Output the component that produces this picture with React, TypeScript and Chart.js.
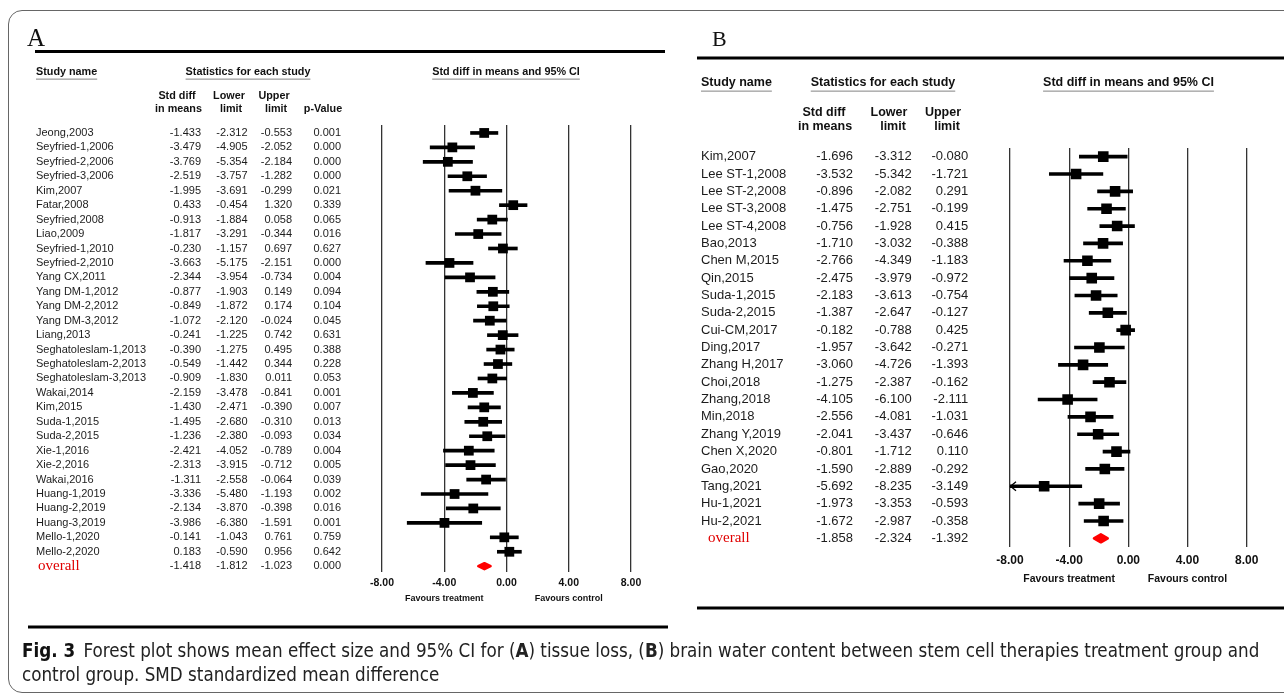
import React, { useEffect, useRef } from "react";
import { Chart, registerables } from "chart.js";

Chart.register(...registerables);

// ---------- DATA ----------
const xTicks = [-8, -4, 0, 4, 8];

const namesA = [
  "Jeong,2003", "Seyfried-1,2006", "Seyfried-2,2006", "Seyfried-3,2006", "Kim,2007",
  "Fatar,2008", "Seyfried,2008", "Liao,2009", "Seyfried-1,2010", "Seyfried-2,2010",
  "Yang CX,2011", "Yang DM-1,2012", "Yang DM-2,2012", "Yang DM-3,2012", "Liang,2013",
  "Seghatoleslam-1,2013", "Seghatoleslam-2,2013", "Seghatoleslam-3,2013", "Wakai,2014", "Kim,2015",
  "Suda-1,2015", "Suda-2,2015", "Xie-1,2016", "Xie-2,2016", "Wakai,2016",
  "Huang-1,2019", "Huang-2,2019", "Huang-3,2019", "Mello-1,2020", "Mello-2,2020",
];
const smdA = [
  -1.433, -3.479, -3.769, -2.519, -1.995, 0.433, -0.913, -1.817, -0.23, -3.663,
  -2.344, -0.877, -0.849, -1.072, -0.241, -0.39, -0.549, -0.909, -2.159, -1.43,
  -1.495, -1.236, -2.421, -2.313, -1.311, -3.336, -2.134, -3.986, -0.141, 0.183,
];
const lowerA = [
  -2.312, -4.905, -5.354, -3.757, -3.691, -0.454, -1.884, -3.291, -1.157, -5.175,
  -3.954, -1.903, -1.872, -2.12, -1.225, -1.275, -1.442, -1.83, -3.478, -2.471,
  -2.68, -2.38, -4.052, -3.915, -2.558, -5.48, -3.87, -6.38, -1.043, -0.59,
];
const upperA = [
  -0.553, -2.052, -2.184, -1.282, -0.299, 1.32, 0.058, -0.344, 0.697, -2.151,
  -0.734, 0.149, 0.174, -0.024, 0.742, 0.495, 0.344, 0.011, -0.841, -0.39,
  -0.31, -0.093, -0.789, -0.712, -0.064, -1.193, -0.398, -1.591, 0.761, 0.956,
];
const pValueA = [
  0.001, 0.0, 0.0, 0.0, 0.021, 0.339, 0.065, 0.016, 0.627, 0.0,
  0.004, 0.094, 0.104, 0.045, 0.631, 0.388, 0.228, 0.053, 0.001, 0.007,
  0.013, 0.034, 0.004, 0.005, 0.039, 0.002, 0.016, 0.001, 0.759, 0.642,
];
const overallA = [-1.418, -1.812, -1.023];
const overallPA = 0.0;

const namesB = [
  "Kim,2007", "Lee ST-1,2008", "Lee ST-2,2008", "Lee ST-3,2008", "Lee ST-4,2008",
  "Bao,2013", "Chen M,2015", "Qin,2015", "Suda-1,2015", "Suda-2,2015",
  "Cui-CM,2017", "Ding,2017", "Zhang H,2017", "Choi,2018", "Zhang,2018",
  "Min,2018", "Zhang Y,2019", "Chen X,2020", "Gao,2020", "Tang,2021",
  "Hu-1,2021", "Hu-2,2021",
];
const smdB = [
  -1.696, -3.532, -0.896, -1.475, -0.756, -1.71, -2.766, -2.475, -2.183, -1.387,
  -0.182, -1.957, -3.06, -1.275, -4.105, -2.556, -2.041, -0.801, -1.59, -5.692,
  -1.973, -1.672,
];
const lowerB = [
  -3.312, -5.342, -2.082, -2.751, -1.928, -3.032, -4.349, -3.979, -3.613, -2.647,
  -0.788, -3.642, -4.726, -2.387, -6.1, -4.081, -3.437, -1.712, -2.889, -8.235,
  -3.353, -2.987,
];
const upperB = [
  -0.08, -1.721, 0.291, -0.199, 0.415, -0.388, -1.183, -0.972, -0.754, -0.127,
  0.425, -0.271, -1.393, -0.162, -2.111, -1.031, -0.646, 0.11, -0.292, -3.149,
  -0.593, -0.358,
];
const overallB = [-1.858, -2.324, -1.392];

// ---------- STYLE ----------
const SANS = "'Liberation Sans', Arial, sans-serif";
const SERIF = "'Liberation Serif', 'Times New Roman', serif";

type Header = { text: string; x: number; y: number; align: CanvasTextAlign; underline?: boolean };

interface PanelCfg {
  letter: string; letterX: number; letterBase: number; letterSize: number;
  left: number; width: number; height: number;
  rules: number[][];
  plotLeft: number; plotRight: number; plotTop: number; plotBottom: number;
  yMin: number; yMax: number;
  names: string[]; smd: number[]; lower: number[]; upper: number[]; pvals?: number[];
  overall: number[]; overallP?: number;
  nameX: number; colRight: number[]; rowFont: string;
  overallX: number; overallFont: string;
  headerFont: string; underlineDy: number; headers: Header[];
  tickSize: number; tickPad: number; favFont: string; favY: number;
  squareR: number; lineW: number; diamondH: number;
}

const panelA: PanelCfg = {
  letter: "A", letterX: 27, letterBase: 46, letterSize: 25,
  left: 0, width: 690, height: 640,
  rules: [[35, 665, 51.5], [28, 668, 627]],
  plotLeft: 382, plotRight: 631, plotTop: 125, plotBottom: 572,
  yMin: -0.55, yMax: 30.4,
  names: namesA, smd: smdA, lower: lowerA, upper: upperA, pvals: pValueA,
  overall: overallA, overallP: overallPA,
  nameX: 36, colRight: [201, 247.5, 292, 341], rowFont: `11px ${SANS}`,
  overallX: 38, overallFont: `15px ${SERIF}`,
  headerFont: `bold 10.8px ${SANS}`, underlineDy: 6.5,
  headers: [
    { text: "Study name", x: 36, y: 72, align: "left", underline: true },
    { text: "Statistics for each study", x: 248, y: 72, align: "center", underline: true },
    { text: "Std diff in means and 95% CI", x: 506, y: 72, align: "center", underline: true },
    { text: "Std diff", x: 177, y: 96, align: "center" },
    { text: "in means", x: 178.5, y: 109, align: "center" },
    { text: "Lower", x: 229, y: 96, align: "center" },
    { text: "limit", x: 231, y: 109, align: "center" },
    { text: "Upper", x: 274, y: 96, align: "center" },
    { text: "limit", x: 276, y: 109, align: "center" },
    { text: "p-Value", x: 323, y: 109, align: "center" },
  ],
  tickSize: 10.5, tickPad: 5, favFont: `bold 9px ${SANS}`, favY: 599,
  squareR: 6.9, lineW: 3, diamondH: 3,
};

const panelB: PanelCfg = {
  letter: "B", letterX: 712, letterBase: 46, letterSize: 22,
  left: 690, width: 594, height: 640,
  rules: [[697, 1284, 58], [697, 1284, 608]],
  plotLeft: 1010, plotRight: 1246.7, plotTop: 148, plotBottom: 547,
  yMin: -0.5, yMax: 22.5,
  names: namesB, smd: smdB, lower: lowerB, upper: upperB,
  overall: overallB,
  nameX: 701, colRight: [853, 911.7, 968.3], rowFont: `13px ${SANS}`,
  overallX: 708, overallFont: `15px ${SERIF}`,
  headerFont: `bold 12.5px ${SANS}`, underlineDy: 7.5,
  headers: [
    { text: "Study name", x: 701, y: 83, align: "left", underline: true },
    { text: "Statistics for each study", x: 883, y: 83, align: "center", underline: true },
    { text: "Std diff in means and 95% CI", x: 1128.5, y: 83, align: "center", underline: true },
    { text: "Std diff", x: 824, y: 113, align: "center" },
    { text: "in means", x: 825, y: 127, align: "center" },
    { text: "Lower", x: 889, y: 113, align: "center" },
    { text: "limit", x: 893, y: 127, align: "center" },
    { text: "Upper", x: 943, y: 113, align: "center" },
    { text: "limit", x: 947, y: 127, align: "center" },
  ],
  tickSize: 12, tickPad: 6, favFont: `bold 10.5px ${SANS}`, favY: 579,
  squareR: 7.5, lineW: 3, diamondH: 4,
};

function makePanelPlugin(cfg: PanelCfg) {
  return {
    id: "panel" + cfg.letter,
    afterDraw(chart: any) {
      const ctx = chart.ctx as CanvasRenderingContext2D;
      const xs = chart.scales.x;
      const ys = chart.scales.y;
      const X = (px: number) => px - cfg.left;
      ctx.save();

      // panel letter
      ctx.fillStyle = "#111";
      ctx.font = `${cfg.letterSize}px ${SERIF}`;
      ctx.textAlign = "left";
      ctx.textBaseline = "alphabetic";
      ctx.fillText(cfg.letter, X(cfg.letterX), cfg.letterBase);

      // thick rules
      ctx.fillStyle = "#000";
      for (const r of cfg.rules) ctx.fillRect(X(r[0]), r[2] - 1.5, r[1] - r[0], 3);

      // headers
      ctx.font = cfg.headerFont;
      ctx.textBaseline = "middle";
      for (const h of cfg.headers) {
        ctx.textAlign = h.align;
        ctx.fillStyle = "#111";
        ctx.fillText(h.text, X(h.x), h.y);
        if (h.underline) {
          const w = ctx.measureText(h.text).width;
          const x0 = h.align === "center" ? h.x - w / 2 : h.x;
          ctx.fillStyle = "#a0a0a0";
          ctx.fillRect(X(x0), h.y + cfg.underlineDy, w, 1.3);
        }
      }

      // study rows
      ctx.font = cfg.rowFont;
      ctx.fillStyle = "#1c1c1c";
      const n = cfg.names.length;
      for (let i = 0; i < n; i++) {
        const y = ys.getPixelForValue(i);
        ctx.textAlign = "left";
        ctx.fillText(cfg.names[i], X(cfg.nameX), y);
        ctx.textAlign = "right";
        const cols = [cfg.smd[i], cfg.lower[i], cfg.upper[i]];
        if (cfg.pvals) cols.push(cfg.pvals[i]);
        cols.forEach((v, k) => ctx.fillText(v.toFixed(3), X(cfg.colRight[k]), y));
      }

      // overall row
      const yo = ys.getPixelForValue(n);
      ctx.textAlign = "left";
      ctx.fillStyle = "#e00000";
      ctx.font = cfg.overallFont;
      ctx.fillText("overall", X(cfg.overallX), yo);
      ctx.font = cfg.rowFont;
      ctx.fillStyle = "#1c1c1c";
      ctx.textAlign = "right";
      const oc = [cfg.overall[0], cfg.overall[1], cfg.overall[2]];
      if (cfg.overallP !== undefined) oc.push(cfg.overallP);
      oc.forEach((v, k) => ctx.fillText(v.toFixed(3), X(cfg.colRight[k]), yo));

      // overall diamond
      const xl = xs.getPixelForValue(cfg.overall[1]);
      const xc = xs.getPixelForValue(cfg.overall[0]);
      const xr = xs.getPixelForValue(cfg.overall[2]);
      ctx.beginPath();
      ctx.moveTo(xl, yo);
      ctx.lineTo(xc, yo - cfg.diamondH);
      ctx.lineTo(xr, yo);
      ctx.lineTo(xc, yo + cfg.diamondH);
      ctx.closePath();
      ctx.fillStyle = "#ff0000";
      ctx.strokeStyle = "#ff0000";
      ctx.lineWidth = 2.5;
      ctx.lineJoin = "round";
      ctx.fill();
      ctx.stroke();

      // arrows for CIs beyond the axis
      ctx.strokeStyle = "#000";
      ctx.lineWidth = 1.3;
      ctx.lineJoin = "miter";
      for (let i = 0; i < n; i++) {
        if (cfg.lower[i] < xs.min) {
          const y = ys.getPixelForValue(i);
          const x0 = chart.chartArea.left;
          ctx.beginPath();
          ctx.moveTo(x0 + 6, y - 4.5);
          ctx.lineTo(x0 + 0.5, y);
          ctx.lineTo(x0 + 6, y + 4.5);
          ctx.stroke();
        }
      }

      // favours labels
      ctx.font = cfg.favFont;
      ctx.fillStyle = "#111";
      ctx.textAlign = "center";
      ctx.textBaseline = "middle";
      ctx.fillText("Favours treatment", xs.getPixelForValue(-4), cfg.favY);
      ctx.fillText("Favours control", xs.getPixelForValue(4), cfg.favY);

      ctx.restore();
    },
  };
}

function buildChart(canvas: HTMLCanvasElement, cfg: PanelCfg) {
  return new Chart(canvas, {
    type: "scatter",
    data: {
      datasets: [
        {
          type: "scatter",
          data: cfg.smd.map((v, i) => ({ x: v, y: i })),
          pointStyle: "rect",
          pointRadius: cfg.squareR,
          pointHoverRadius: cfg.squareR,
          backgroundColor: "#000",
          borderColor: "#000",
          borderWidth: 0,
          order: 0,
        } as any,
        {
          type: "bar",
          indexAxis: "y",
          data: cfg.lower.map((lo, i) => ({ x: [lo, cfg.upper[i]], y: i })),
          backgroundColor: "#000",
          barThickness: cfg.lineW,
          clip: 0,
          order: 1,
        } as any,
      ],
    },
    options: {
      animation: false,
      responsive: false,
      devicePixelRatio: 1,
      events: [],
      layout: {
        padding: {
          left: cfg.plotLeft - cfg.left,
          right: cfg.left + cfg.width - cfg.plotRight,
          top: cfg.plotTop,
          bottom: cfg.height - 30 - cfg.plotBottom,
        },
      },
      plugins: {
        legend: { display: false },
        tooltip: { enabled: false },
        title: { display: false },
      },
      scales: {
        x: {
          type: "linear",
          min: xTicks[0],
          max: xTicks[xTicks.length - 1],
          offset: false,
          afterBuildTicks: (s: any) => {
            s.ticks = xTicks.map((v) => ({ value: v }));
          },
          afterFit: (s: any) => {
            s.height = 30;
          },
          grid: { color: "#333", lineWidth: 1.3, drawTicks: false, offset: false },
          border: { display: false },
          ticks: {
            font: { family: SANS, size: cfg.tickSize, weight: "bold" },
            color: "#111",
            padding: cfg.tickPad,
            maxRotation: 0,
            autoSkip: false,
            callback: (v: any) => Number(v).toFixed(2),
          },
        },
        y: {
          type: "linear",
          min: cfg.yMin,
          max: cfg.yMax,
          reverse: true,
          offset: false,
          grace: 0,
          display: false,
        },
      },
    } as any,
    plugins: [makePanelPlugin(cfg)],
  });
}

export default function App() {
  const refA = useRef<HTMLCanvasElement>(null);
  const refB = useRef<HTMLCanvasElement>(null);

  useEffect(() => {
    const a = buildChart(refA.current!, panelA);
    const b = buildChart(refB.current!, panelB);
    return () => {
      a.destroy();
      b.destroy();
    };
  }, []);

  const capFont = "'Liberation Sans Narrow', 'DejaVu Sans Condensed', 'Liberation Sans', sans-serif";

  return (
    <div style={{ position: "fixed", left: 0, top: 0, width: 1284, height: 695, background: "#fff", overflow: "hidden" }}>
      <div
        style={{
          position: "absolute", left: 8, top: 10, width: 1300, height: 683,
          border: "1.5px solid #666", borderRadius: 14, boxSizing: "border-box",
        }}
      />
      <canvas ref={refA} width={690} height={640} style={{ position: "absolute", left: 0, top: 0, width: 690, height: 640 }} />
      <canvas ref={refB} width={594} height={640} style={{ position: "absolute", left: 690, top: 0, width: 594, height: 640 }} />
      <div
        style={{
          position: "absolute", left: 22, top: 639, font: `18.65px ${capFont}`,
          lineHeight: "24px", color: "#222", whiteSpace: "nowrap",
        }}
      >
        <div>
          <b style={{ color: "#111" }}>Fig. 3</b>
          {"\u2002Forest plot shows mean effect size and 95% CI for ("}
          <b>A</b>
          {") tissue loss, ("}
          <b>B</b>
          {") brain water content between stem cell therapies treatment group and"}
        </div>
        <div>control group. SMD standardized mean difference</div>
      </div>
    </div>
  );
}
